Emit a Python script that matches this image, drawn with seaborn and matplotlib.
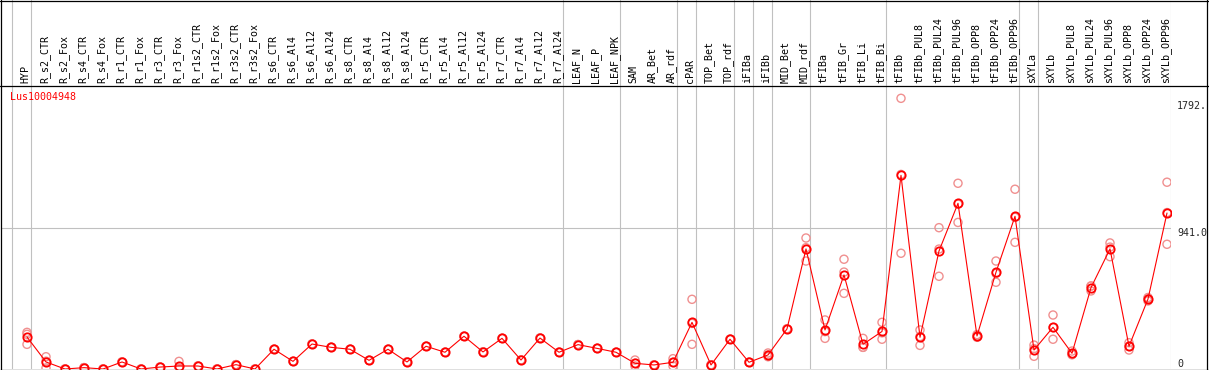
import numpy as np
import pandas as pd
import matplotlib
matplotlib.use("Agg")
import matplotlib.pyplot as plt
import seaborn as sns
from matplotlib.lines import Line2D
from matplotlib.transforms import blended_transform_factory

# Sample columns (left to right)
samples = [
    "HYP",
    "R_s2_CTR", "R_s2_Fox", "R_s4_CTR", "R_s4_Fox", "R_r1_CTR", "R_r1_Fox",
    "R_r3_CTR", "R_r3_Fox", "R_r1s2_CTR", "R_r1s2_Fox", "R_r3s2_CTR", "R_r3s2_Fox",
    "R_s6_CTR", "R_s6_Al4", "R_s6_Al12", "R_s6_Al24",
    "R_s8_CTR", "R_s8_Al4", "R_s8_Al12", "R_s8_Al24",
    "R_r5_CTR", "R_r5_Al4", "R_r5_Al12", "R_r5_Al24",
    "R_r7_CTR", "R_r7_Al4", "R_r7_Al12", "R_r7_Al24",
    "LEAF_N", "LEAF_P", "LEAF_NPK",
    "SAM", "AR_Bet", "AR_rdf",
    "cPAR",
    "TOP_Bet", "TOP_rdf",
    "iFIBa",
    "iFIBb",
    "MID_Bet", "MID_rdf",
    "tFIBa", "tFIB_Gr", "tFIB_Li", "tFIB_Bi",
    "tFIBb", "tFIBb_PUL8", "tFIBb_PUL24", "tFIBb_PUL96",
    "tFIBb_OPP8", "tFIBb_OPP24", "tFIBb_OPP96",
    "sXYLa",
    "sXYLb", "sXYLb_PUL8", "sXYLb_PUL24", "sXYLb_PUL96",
    "sXYLb_OPP8", "sXYLb_OPP24", "sXYLb_OPP96",
]

# mean expression per sample
means = [
    214, 47, 0, 9, 0, 47, 0, 13, 20, 20, 0, 29, 0, 132, 51,
    167, 145, 132, 58, 132, 47, 152, 112, 219, 114, 205, 60, 207, 112, 163, 138,
    112, 38, 27, 45, 312, 27, 199, 45, 94, 268, 803, 261, 629, 165, 251,
    1295, 212, 789, 1108, 221, 647, 1021, 127, 279, 105, 544, 803, 152, 468, 1043,
]

# individual replicates
rep_a = [
    245, 82, 0, 9, 0, 47, 0, 13, 51, 20, 0, 29, 0, 132, 51,
    167, 145, 132, 58, 132, 47, 152, 112, 219, 114, 205, 60, 207, 112, 163, 138,
    112, 60, 27, 69, 466, 27, 199, 45, 107, 268, 876, 328, 734, 205, 312,
    1810, 261, 945, 1242, 230, 722, 1202, 160, 361, 120, 555, 843, 176, 478, 1249,
]
rep_b = [
    232, 52, 0, 9, 0, 47, 0, 13, 5, 20, 0, 29, 0, 132, 51,
    167, 145, 132, 58, 132, 47, 152, 112, 219, 114, 205, 60, 207, 112, 163, 138,
    112, 38, 27, 45, 305, 27, 199, 45, 94, 268, 811, 250, 648, 145, 242,
    1301, 217, 802, 1102, 221, 639, 1014, 136, 277, 100, 555, 815, 152, 470, 1046,
]
rep_c = [
    165, 7, 0, 9, 0, 47, 0, 13, 5, 20, 0, 29, 0, 132, 51,
    167, 145, 132, 58, 132, 47, 152, 112, 219, 114, 205, 60, 207, 112, 163, 138,
    112, 20, 27, 20, 165, 27, 199, 45, 82, 268, 722, 205, 506, 145, 199,
    774, 158, 620, 980, 212, 580, 847, 85, 199, 95, 522, 751, 127, 455, 834,
]

# last sample index of each tissue group (separator drawn after it)
group_ends = [-1, 0, 28, 31, 34, 35, 37, 38, 39, 41, 45, 52, 53, 60]

gene = "Lus10004948"
ytick_vals = [1792, 941, 0]
ytick_text = ["1792.", "941.0", "0"]

W, H = 1209, 370
sns.set_style("white")
plt.rcParams["font.family"] = ["DejaVu Sans Mono", "DejaVu Sans"]

fig = plt.figure(figsize=(W / 100, H / 100), dpi=100)


def px_box(x0, y0, x1, y1):
    return [x0 / W, 1 - y1 / H, (x1 - x0) / W, (y1 - y0) / H]


ax = fig.add_axes(px_box(1, 85, 1171, 369))
head = fig.add_axes(px_box(1, 0, 1171, 85), sharex=ax)

xs = np.arange(len(samples))
grid_col = "#c0c0c0"

# separators and 941 grid line
for g in group_ends:
    ax.axvline(g + 4 / 19, color=grid_col, lw=0.8, zorder=0)
    head.axvline(g + 4 / 19, color=grid_col, lw=0.8, zorder=0)
ax.axhline(941, color=grid_col, lw=0.8, zorder=0)

# replicates
reps = pd.DataFrame({
    "x": np.tile(xs, 3),
    "value": rep_a + rep_b + rep_c,
})
sns.scatterplot(data=reps, x="x", y="value", ax=ax, marker="o", s=34,
                facecolors="none", edgecolor="#f09090", linewidth=1.0,
                zorder=2, legend=False)

# mean profile
sns.lineplot(x=xs, y=means, ax=ax, color="red", lw=0.8, marker="o",
             markersize=6, markerfacecolor="none", markeredgecolor="red",
             markeredgewidth=1.3, zorder=3)

ax.set_xlim(-26 / 19, 1144 / 19)
ax.set_ylim(0, 1899)
ax.set_xticks([])
ax.set_yticks([])
ax.set_xlabel("")
ax.set_ylabel("")
for sp in ax.spines.values():
    sp.set_visible(False)

head.set_ylim(85, 0)
head.set_yticks([])
head.tick_params(bottom=False, labelbottom=False)
for sp in head.spines.values():
    sp.set_visible(False)
for i, s in enumerate(samples):
    head.text(i - 0.08, 83, s, rotation=90, ha="center", va="bottom",
              fontsize=7.2, color="black")

# right-hand value labels
trans = blended_transform_factory(fig.transFigure, ax.transData)
for v, t in zip(ytick_vals, ytick_text):
    fig.text(1177 / W, v, t, transform=trans, fontsize=7.2,
             va="bottom" if v == 0 else "top", ha="left")

fig.text(10 / W, 1 - 97 / H, gene, color="red", fontsize=7.2, va="center")

# frame and header divider
line_kw = dict(transform=fig.transFigure, color="black", lw=0.9)
fig.add_artist(Line2D([0, 1], [1 - 85.5 / H] * 2, **line_kw))
fig.add_artist(Line2D([0.5 / W] * 2, [0, 1], **line_kw))
fig.add_artist(Line2D([1206.5 / W] * 2, [0, 1], **line_kw))
fig.add_artist(Line2D([0, 1], [1 - 0.5 / H] * 2, **line_kw))
fig.add_artist(Line2D([0, 1], [1 - 369.5 / H] * 2, **line_kw))

fig.savefig("out.png", dpi=100)
